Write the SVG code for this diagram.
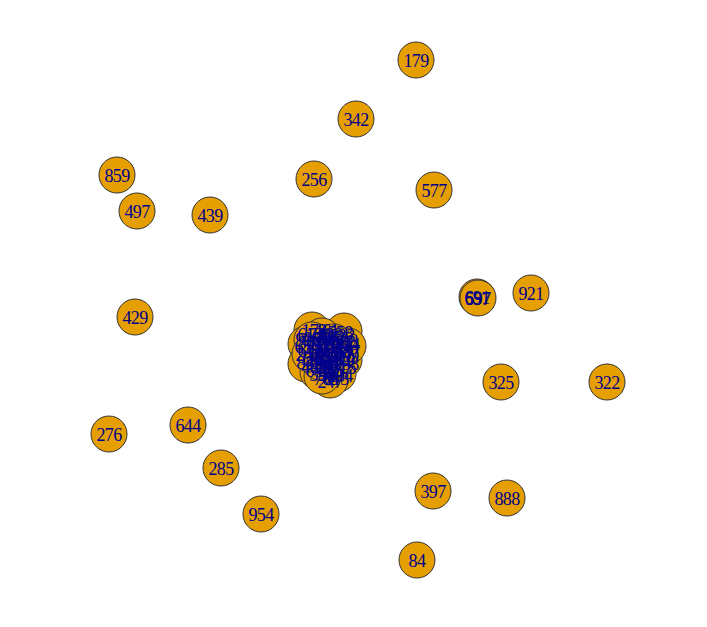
<svg xmlns="http://www.w3.org/2000/svg" width="707" height="627" viewBox="0 0 707 627">
<style>
.n circle{fill:#E69F00;stroke:#333;stroke-width:1}
.n text{font-family:"Liberation Serif",serif;font-size:18px;letter-spacing:-0.6px;fill:#00008B;text-anchor:middle;dominant-baseline:central}
</style>
<rect width="707" height="627" fill="#fff"/>
<g id="connectors"></g>
<g id="nodes" class="n">
<g id="c1"><circle cx="312" cy="330" r="18"/></g>
<g id="c2"><circle cx="344" cy="331" r="18"/></g>
<g id="c3"><circle cx="306" cy="344" r="18"/></g>
<g id="c4"><circle cx="322" cy="336" r="18"/></g>
<g id="c5"><circle cx="334" cy="342" r="18"/></g>
<g id="c6"><circle cx="316" cy="349" r="18"/></g>
<g id="c7"><circle cx="340" cy="352" r="18"/></g>
<g id="c8"><circle cx="326" cy="356" r="18"/></g>
<g id="c9"><circle cx="306" cy="364" r="18"/></g>
<g id="c10"><circle cx="344" cy="360" r="18"/></g>
<g id="c11"><circle cx="330" cy="368" r="18"/></g>
<g id="c12"><circle cx="318" cy="372" r="18"/></g>
<g id="c13"><circle cx="338" cy="374" r="18"/></g>
<g id="c14"><circle cx="330" cy="380" r="18"/></g>
<g id="c15"><circle cx="322" cy="376" r="18"/></g>
<g id="c16"><circle cx="312" cy="340" r="18"/></g>
<g id="c17"><circle cx="348" cy="346" r="18"/></g>
<g id="c18"><circle cx="320" cy="362" r="18"/></g>
<g id="c19"><circle cx="335" cy="358" r="18"/></g>
<g id="c20"><circle cx="310" cy="354" r="18"/></g>
<g id="n179"><circle cx="416" cy="60" r="18"/></g>
<g id="n342"><circle cx="356" cy="119" r="18"/></g>
<g id="n256"><circle cx="314" cy="179" r="18"/></g>
<g id="n577"><circle cx="434" cy="190" r="18"/></g>
<g id="n859"><circle cx="117" cy="175" r="18"/></g>
<g id="n497"><circle cx="137" cy="211" r="18"/></g>
<g id="n439"><circle cx="210" cy="215" r="18"/></g>
<g id="n429"><circle cx="135" cy="317" r="18"/></g>
<g id="n921"><circle cx="531" cy="293" r="18"/></g>
<g id="na"><circle cx="477" cy="297" r="18"/></g>
<g id="nb"><circle cx="478" cy="298" r="18"/></g>
<g id="n325"><circle cx="501" cy="382" r="18"/></g>
<g id="n322"><circle cx="607" cy="382" r="18"/></g>
<g id="n276"><circle cx="109" cy="434" r="18"/></g>
<g id="n644"><circle cx="188" cy="425" r="18"/></g>
<g id="n285"><circle cx="221" cy="468" r="18"/></g>
<g id="n954"><circle cx="261" cy="514" r="18"/></g>
<g id="n397"><circle cx="433" cy="491" r="18"/></g>
<g id="n888"><circle cx="507" cy="498" r="18"/></g>
<g id="n84"><circle cx="417" cy="560" r="18"/></g>
</g>
<g id="labels" class="n">
<text x="416" y="61">179</text>
<text x="356" y="120">342</text>
<text x="314" y="180">256</text>
<text x="434" y="191">577</text>
<text x="117" y="176">859</text>
<text x="137" y="212">497</text>
<text x="210" y="216">439</text>
<text x="135" y="318">429</text>
<text x="531" y="294">921</text>
<text x="477" y="298">691</text>
<text x="478" y="299">597</text>
<text x="477" y="299">657</text>
<text x="501" y="383">325</text>
<text x="607" y="383">322</text>
<text x="109" y="435">276</text>
<text x="188" y="426">644</text>
<text x="221" y="469">285</text>
<text x="261" y="515">954</text>
<text x="433" y="492">397</text>
<text x="507" y="499">888</text>
<text x="417" y="561">84</text>
<text x="314" y="331">173</text>
<text x="326" y="331">461</text>
<text x="340" y="333">558</text>
<text x="310" y="335">612</text>
<text x="320" y="335">740</text>
<text x="330" y="335">822</text>
<text x="342" y="336">233</text>
<text x="308" y="340">915</text>
<text x="316" y="339">367</text>
<text x="326" y="339">906</text>
<text x="336" y="339">466</text>
<text x="345" y="341">528</text>
<text x="310" y="343">801</text>
<text x="320" y="343">118</text>
<text x="330" y="343">389</text>
<text x="340" y="343">127</text>
<text x="347" y="345">434</text>
<text x="307" y="347">654</text>
<text x="316" y="347">731</text>
<text x="326" y="347">512</text>
<text x="336" y="347">703</text>
<text x="345" y="348">290</text>
<text x="310" y="351">613</text>
<text x="320" y="351">146</text>
<text x="330" y="351">872</text>
<text x="340" y="351">359</text>
<text x="347" y="352">687</text>
<text x="308" y="355">241</text>
<text x="318" y="355">503</text>
<text x="328" y="355">215</text>
<text x="338" y="355">764</text>
<text x="346" y="356">409</text>
<text x="312" y="359">158</text>
<text x="322" y="359">936</text>
<text x="332" y="359">271</text>
<text x="342" y="359">620</text>
<text x="309" y="363">845</text>
<text x="318" y="363">392</text>
<text x="328" y="363">567</text>
<text x="338" y="363">104</text>
<text x="346" y="364">738</text>
<text x="314" y="367">483</text>
<text x="324" y="367">229</text>
<text x="334" y="367">961</text>
<text x="343" y="368">315</text>
<text x="318" y="371">676</text>
<text x="328" y="371">142</text>
<text x="338" y="371">857</text>
<text x="322" y="375">398</text>
<text x="332" y="375">531</text>
<text x="340" y="376">204</text>
<text x="326" y="379">769</text>
<text x="336" y="379">613</text>
<text x="330" y="382">247</text>
<text x="320" y="345">75</text>
<text x="330" y="357">38</text>
<text x="318" y="361">66</text>
</g>
</svg>
